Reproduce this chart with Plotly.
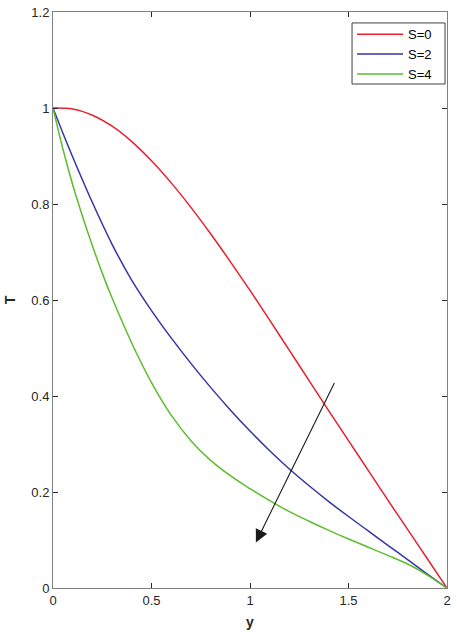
import plotly.graph_objects as go

# Data
x_s0 = [0, 0.1, 0.2, 0.3, 0.4, 0.5, 0.6, 0.7, 0.8, 0.9, 1.0, 1.1, 1.2, 1.3, 1.4, 1.5, 1.6, 1.7, 1.8, 1.9, 2.0]
t_s0 = [1.000, 0.998, 0.985, 0.962, 0.930, 0.890, 0.844, 0.793, 0.738, 0.680, 0.620, 0.558, 0.495, 0.432, 0.369, 0.307, 0.245, 0.183, 0.122, 0.061, 0.0]

x_s2 = [0, 0.05, 0.1, 0.2, 0.3, 0.4, 0.5, 0.6, 0.7, 0.8, 0.9, 1.0, 1.1, 1.2, 1.3, 1.4, 1.5, 1.6, 1.7, 1.8, 1.9, 2.0]
t_s2 = [1.000, 0.948, 0.898, 0.803, 0.716, 0.641, 0.578, 0.521, 0.468, 0.418, 0.371, 0.327, 0.286, 0.248, 0.213, 0.180, 0.149, 0.119, 0.089, 0.059, 0.029, 0.0]

x_s4 = [0, 0.05, 0.1, 0.15, 0.2, 0.25, 0.3, 0.4, 0.5, 0.6, 0.7, 0.8, 0.9, 1.0, 1.1, 1.2, 1.3, 1.4, 1.5, 1.6, 1.7, 1.8, 1.9, 2.0]
t_s4 = [1.000, 0.915, 0.840, 0.774, 0.713, 0.656, 0.604, 0.510, 0.428, 0.360, 0.307, 0.266, 0.234, 0.207, 0.182, 0.159, 0.139, 0.120, 0.102, 0.085, 0.068, 0.050, 0.027, 0.0]

series_names = ["S=0", "S=2", "S=4"]
series_colors = ["#e8202f", "#3535a5", "#5cbd2e"]

x_ticks = [0, 0.5, 1, 1.5, 2]
y_ticks = [0, 0.2, 0.4, 0.6, 0.8, 1, 1.2]

# arrow (tail -> head) in data coords
arrow_tail = (1.432, 0.43)
arrow_head = (1.03, 0.095)

fig = go.Figure()
for xs, ts, name, col in zip([x_s0, x_s2, x_s4], [t_s0, t_s2, t_s4], series_names, series_colors):
    fig.add_trace(go.Scatter(x=xs, y=ts, mode="lines", name=name,
                             line=dict(color=col, width=1.5, shape="spline", smoothing=1.0)))

fig.add_annotation(x=arrow_head[0], y=arrow_head[1], ax=arrow_tail[0], ay=arrow_tail[1],
                   xref="x", yref="y", axref="x", ayref="y", text="", showarrow=True,
                   arrowhead=2, arrowsize=2.3, arrowwidth=1.1, arrowcolor="#1a1a1a")

# legend frame
fig.add_shape(type="rect", xref="paper", yref="paper", x0=0.759, x1=0.995, y0=0.875, y1=0.981,
              line=dict(color="#404040", width=1), fillcolor="white", layer="below")

axis_common = dict(showgrid=False, zeroline=False, showline=True, linecolor="#808080", linewidth=1,
                   mirror="ticks", ticks="inside", ticklen=5, tickcolor="#262626", tickwidth=1,
                   automargin=False,
                   tickfont=dict(family="Liberation Sans, Arial", size=13, color="#262626"))

fig.update_layout(
    width=457, height=640,
    margin=dict(l=53, r=10, t=12, b=52),
    paper_bgcolor="white", plot_bgcolor="white",
    xaxis=dict(range=[0, 2], tickvals=x_ticks,
               title=dict(text="<b>y</b>", font=dict(family="Liberation Sans, Arial", size=14, color="#262626"), standoff=10),
               **axis_common),
    yaxis=dict(range=[0, 1.2], tickvals=y_ticks,
               title=dict(text="<b>T</b>", font=dict(family="Liberation Sans, Arial", size=14, color="#262626"), standoff=12),
               **axis_common),
    legend=dict(x=0.759, y=0.9875, xanchor="left", yanchor="top", bgcolor="rgba(0,0,0,0)",
                borderwidth=0, itemwidth=46,
                font=dict(family="Liberation Sans, Arial", size=13, color="#000000"),
                tracegroupgap=0),
    showlegend=True,
)

fig.write_html("out.html", config={"displayModeBar": False},
               post_script="document.body.style.margin='0';document.body.style.overflow='hidden';")
